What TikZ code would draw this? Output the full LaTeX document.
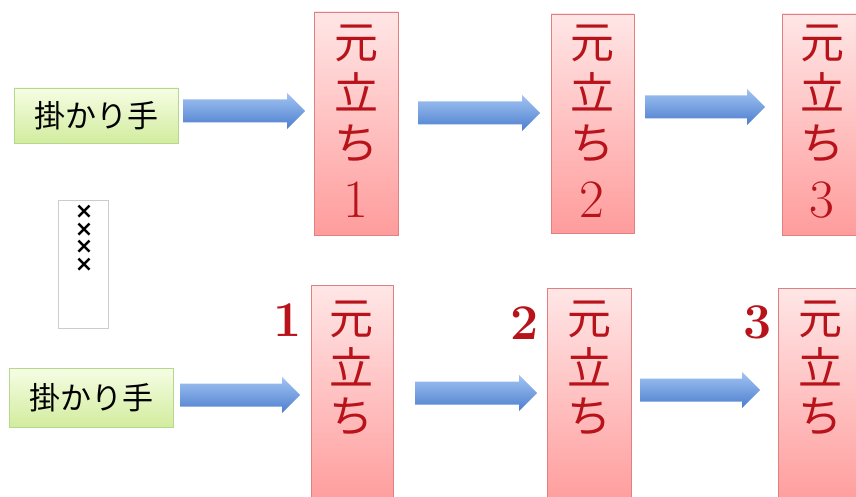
\documentclass[tikz,border=0pt]{standalone}
\usepackage{fontspec}
\newfontfamily\cjk{Noto Sans CJK JP}
\newfontfamily\dvs{DejaVu Sans}
\definecolor{redtxt}{HTML}{B8121A}
\definecolor{pinktop}{HTML}{FFE6E6}
\definecolor{pinkbot}{HTML}{FF9C9C}
\definecolor{pinkline}{HTML}{E08080}
\definecolor{greentop}{HTML}{F6FDE4}
\definecolor{greenbot}{HTML}{D2EC9E}
\definecolor{greenline}{HTML}{B4D88E}
\definecolor{bluetop}{HTML}{A2C4F2}
\definecolor{bluebot}{HTML}{4C7ECE}
\begin{document}
\begin{tikzpicture}[x=1pt,y=-1pt,
  redbox/.style={draw=pinkline,line width=0.8pt,top color=pinktop,bottom color=pinkbot,inner sep=0pt,outer sep=0pt},
  greenbox/.style={draw=greenline,line width=0.8pt,top color=greentop,bottom color=greenbot,inner sep=0pt,outer sep=0pt,minimum width=164pt},
  whitebox/.style={draw=black!20,line width=0.8pt,fill=white,inner sep=0pt},
  kanji/.style={text=redtxt,font=\cjk\fontsize{44}{44}\selectfont,inner sep=0pt},
  numtop/.style={text=redtxt,font=\fontsize{54}{54}\selectfont,inner sep=0pt},
  numbot/.style={text=redtxt,font=\bfseries\fontsize{50}{50}\selectfont,inner sep=0pt},
  gtext/.style={text=black,font=\cjk\fontsize{31}{31}\selectfont,inner sep=0pt},
  xmark/.style={text=black,font=\dvs\bfseries\fontsize{22}{17.6}\selectfont,inner sep=0pt,align=center},
  blockarrow/.style={top color=bluetop,bottom color=bluebot,draw=none}
]
\useasboundingbox (0,0) rectangle (856,497);
\newcommand{\barrow}[3]{%
  \path[blockarrow] (#1,#3-11.5) -- (#2-18,#3-11.5) -- (#2-18,#3-18) -- (#2,#3)
    -- (#2-18,#3+18) -- (#2-18,#3+11.5) -- (#1,#3+11.5) -- cycle;}

% top row
\node[greenbox,minimum height=55pt] (g1) at (96,115.5) {};
\node[gtext] (g1t) at (g1.center) {掛かり手};
\node[redbox,minimum width=84pt,minimum height=223pt] (t1) at (356,123.5) {};
\node[redbox,minimum width=83pt,minimum height=219pt] (t2) at (592.5,123.5) {};
\node[redbox,minimum width=76pt,minimum height=221pt] (t3) at (820,124.5) {};
\barrow{183}{305}{111}
\barrow{418}{540}{113}
\barrow{645}{765}{107}

\foreach \n/\x/\d/\dy in {1/356/1/200, 2/592/2/200, 3/822/3/200}{
  \node[kanji] (t\n a) at (\x,43) {元};
  \node[kanji] (t\n b) at (\x,92) {立};
  \node[kanji] (t\n c) at (\x,144) {ち};
  \node[numtop] (t\n d) at (\x,\dy) {\d};
}

% middle small box
\node[whitebox,minimum width=50pt,minimum height=128pt] (s) at (83,264) {};
\node[xmark] (xs) at (84,238.5) {×\\×\\×\\×};

% bottom row
\node[greenbox,minimum height=59pt] (g2) at (91,397.5) {};
\node[gtext] (g2t) at (g2.center) {掛かり手};
\node[redbox,minimum width=82pt,minimum height=220pt] (u1) at (352,395) {};
\node[redbox,minimum width=84pt,minimum height=217pt] (u2) at (589,396.5) {};
\node[redbox,minimum width=80pt,minimum height=217pt] (u3) at (818,396.5) {};
\barrow{180}{300}{395}
\barrow{415}{537}{393}
\barrow{640}{760}{390}

\foreach \n/\x in {1/351, 2/589, 3/820}{
  \node[kanji] (u\n a) at (\x,319) {元};
  \node[kanji] (u\n b) at (\x,367) {立};
  \node[kanji] (u\n c) at (\x,417) {ち};
}
\node[numbot] (n1) at (288,320) {1};
\node[numbot] (n2) at (525,323) {2};
\node[numbot] (n3) at (758,322) {3};
\end{tikzpicture}
\end{document}
